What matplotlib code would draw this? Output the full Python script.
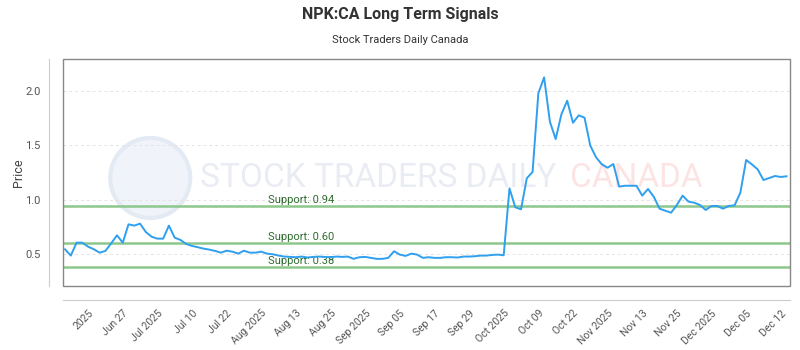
"""NPK:CA long term signals chart (price line + support levels)."""
import matplotlib
matplotlib.use("Agg")
import matplotlib.pyplot as plt
from matplotlib.patches import Rectangle, Ellipse

plt.rcParams["font.family"] = ["Roboto", "DejaVu Sans"]

TITLE = "NPK:CA Long Term Signals"
SUBTITLE = "Stock Traders Daily Canada"

prices = [
    0.543, 0.485, 0.604, 0.604, 0.567, 0.543, 0.512, 0.528, 0.598, 0.672,
    0.604, 0.773, 0.761, 0.779, 0.702, 0.659, 0.641, 0.641, 0.761, 0.650,
    0.629, 0.592, 0.574, 0.562, 0.549, 0.540, 0.528, 0.512, 0.530, 0.521,
    0.503, 0.530, 0.512, 0.512, 0.521, 0.503, 0.497, 0.485,
    0.476, 0.473, 0.470, 0.476, 0.467, 0.473, 0.476, 0.473, 0.470, 0.476,
    0.473, 0.476, 0.455, 0.470, 0.473, 0.464, 0.455, 0.455, 0.464, 0.525,
    0.494, 0.482, 0.503, 0.494, 0.464, 0.470, 0.464, 0.464, 0.470, 0.470,
    0.467, 0.476, 0.476, 0.479, 0.485, 0.485, 0.491, 0.494, 0.488,
    1.104, 0.930, 0.911, 1.197, 1.255, 1.979, 2.126, 1.718, 1.558, 1.786,
    1.911, 1.708, 1.776, 1.755, 1.497, 1.390, 1.325, 1.294, 1.328, 1.120,
    1.128, 1.128, 1.128, 1.037, 1.098, 1.027, 0.917, 0.898, 0.880, 0.951,
    1.037, 0.982, 0.972, 0.951, 0.905, 0.942, 0.942, 0.917, 0.942, 0.948,
    1.064, 1.365, 1.325, 1.279, 1.181, 1.199, 1.218, 1.209, 1.215,
]
supports = [0.94, 0.60, 0.38]
tick_labels = [
    "2025", "Jun 27", "Jul 2025", "Jul 10", "Jul 22", "Aug 2025", "Aug 13",
    "Aug 25", "Sep 2025", "Sep 05", "Sep 17", "Sep 29", "Oct 2025", "Oct 09",
    "Oct 22", "Nov 2025", "Nov 13", "Nov 25", "Dec 2025", "Dec 05", "Dec 12",
]
tick_step = 6
tick_start = 4
y_ticks = [0.5, 1.0, 1.5, 2.0]


def main():
    fig = plt.figure(figsize=(8, 3.5), dpi=100)
    ax = fig.add_axes([63 / 800, 1 - 286 / 350, 727 / 800, 227 / 350])

    # spines first: set_position resets the ticks
    for side in ("top", "right"):
        ax.spines[side].set_visible(False)
    for side in ("left", "bottom"):
        ax.spines[side].set_position(("outward", 10))
        ax.spines[side].set_color("#cccccc")
    ax.add_patch(Rectangle((0, 0), 1, 1, transform=ax.transAxes, fill=False,
                           ec="#888888", lw=1.0, zorder=5, clip_on=False))

    x = list(range(len(prices)))

    # watermark (logo circle + text)
    ax.add_patch(Ellipse((0.12, 0.476), 80 / 727, 80 / 227, transform=ax.transAxes,
                         fc="#f0f4fa", ec="#e4eaf3", lw=3, zorder=0))
    ax.text(0.188, 0.476, "STOCK TRADERS DAILY", transform=ax.transAxes, fontsize=24,
            color="#e9edf3", va="center", ha="left", zorder=0)
    ax.text(0.697, 0.476, "CANADA", transform=ax.transAxes, fontsize=24,
            color="#fde4e4", va="center", ha="left", zorder=0)

    for s in supports:
        ax.axhline(s, color="#8cc78c", lw=1.8, zorder=2)
        ax.text(0.282, s + 0.012, f"Support: {s:.2f}", transform=ax.get_yaxis_transform(),
                color="#2e6b2e", fontsize=8, va="bottom", ha="left", zorder=3)

    ax.plot(x, prices, color="#2f9ff0", lw=1.4, zorder=4)

    ax.set_xlim(-0.35, 125.6)
    ax.set_ylim(0.205, 2.295)
    ax.set_yticks(y_ticks)
    ax.set_yticklabels([f"{v:.1f}" for v in y_ticks])
    ax.set_xticks(list(range(tick_start, len(prices), tick_step)))
    ax.set_xticklabels(tick_labels, rotation=45, ha="right", va="top",
                       rotation_mode="anchor")
    ax.tick_params(axis="both", length=0, colors="#555555", labelsize=7.5)
    ax.tick_params(axis="y", pad=6, labelsize=8)
    ax.tick_params(axis="x", pad=6)
    ax.grid(axis="y", color="#e4e4e4", ls=(0, (3, 3)), lw=0.7)
    ax.set_axisbelow(True)

    ax.set_ylabel("Price", color="#444444", fontsize=9, labelpad=0)
    fig.text(0.5, 1 - 15 / 350, TITLE, ha="center", va="center", fontsize=11.5,
             fontweight="bold", color="#333333")
    fig.text(0.5, 1 - 40 / 350, SUBTITLE, ha="center", va="center", fontsize=8,
             color="#333333")

    fig.savefig("out.png", dpi=100)
    plt.close(fig)


if __name__ == "__main__":
    main()
